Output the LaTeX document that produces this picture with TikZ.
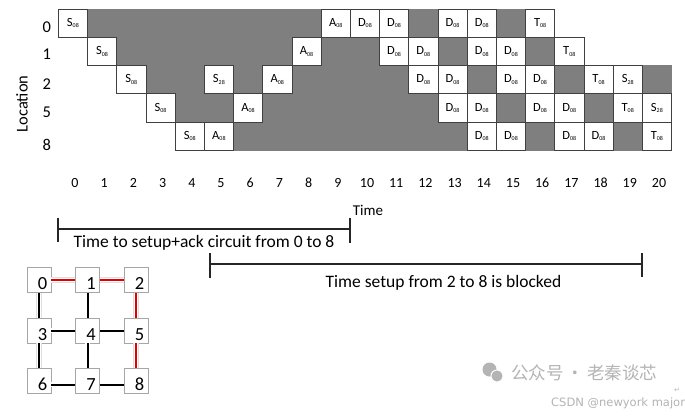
\documentclass[tikz,border=0pt]{standalone}
\usepackage{fontspec}
\setmainfont{Carlito}
\newfontfamily\cjkfont{Noto Sans CJK SC}
\newfontfamily\djvfont{DejaVu Sans}
\definecolor{gcol}{HTML}{7F7F7F}
\definecolor{linkred}{HTML}{E00000}
\definecolor{wmark}{HTML}{B4B4B4}
\newcommand\sx[2]{#1\lower1.4pt\hbox{\fontsize{6}{6}\selectfont #2}}
\newcommand\wc[3]{\node[wcell] (w#1x#2) at ({72.9+29.2*#2},{23.125+28.25*#1}) {#3};}
\newcommand\gc[2]{\node[gcell] (g#1x#2) at ({72.9+29.2*#2},{23.125+28.25*#1}) {};}
\tikzset{
  wcell/.style={draw=black!75, fill=white, line width=0.6pt, minimum width=29.2pt,
    minimum height=28.25pt, inner sep=0pt, font=\fontsize{12.5}{13}\selectfont},
  gcell/.style={draw=gcol, fill=gcol, line width=0.6pt, minimum width=29.2pt,
    minimum height=28.25pt, inner sep=0pt},
  loclab/.style={anchor=base, inner sep=0pt, font=\fontsize{16.5}{17}\selectfont},
  tlab/.style={anchor=base, inner sep=0pt, font=\fontsize{14}{15}\selectfont},
  brtext/.style={anchor=base, inner sep=0pt, font=\fontsize{17.5}{18}\selectfont},
  bar/.style={line width=2pt, draw=black!85},
  mbox/.style={draw=gray!70, fill=white, line width=0.8pt, minimum width=24pt,
    minimum height=25pt, inner sep=0pt},
  mnum/.style={anchor=base, inner sep=0pt, font=\fontsize{18.5}{19}\selectfont},
  linkbase/.style={preaction={draw=gray!25, line width=5.5pt},
    preaction={draw=white, line width=4.3pt}, line width=2pt},
  redlink/.style={linkbase, draw=linkred},
  blklink/.style={linkbase, draw=black},
}
\begin{document}
\begin{tikzpicture}[x=1pt, y=-1pt]
\useasboundingbox (0,0) rectangle (685,418);
\fill[white] (0,0) rectangle (685,418);

% ---- gray cells ----
\foreach \c in {1,2,3,4,5,6,7,8,12,15} {\gc{0}{\c}}
\foreach \c in {2,3,4,5,6,7,9,10,13,16} {\gc{1}{\c}}
\foreach \c in {3,4,6,8,9,10,11,14,17,20} {\gc{2}{\c}}
\foreach \c in {4,5,7,8,9,10,11,12,15,18} {\gc{3}{\c}}
\foreach \c in {6,7,8,9,10,11,12,13,16,19} {\gc{4}{\c}}

% ---- white cells ----
\foreach \c/\l/\s in {0/S/08, 9/A/08, 10/D/08, 11/D/08, 13/D/08, 14/D/08, 16/T/08} {\wc{0}{\c}{\sx{\l}{\s}}}
\foreach \c/\l/\s in {1/S/08, 8/A/08, 11/D/08, 12/D/08, 14/D/08, 15/D/08, 17/T/08} {\wc{1}{\c}{\sx{\l}{\s}}}
\foreach \c/\l/\s in {2/S/08, 5/S/28, 7/A/08, 12/D/08, 13/D/08, 15/D/08, 16/D/08, 18/T/08, 19/S/28} {\wc{2}{\c}{\sx{\l}{\s}}}
\foreach \c/\l/\s in {3/S/08, 6/A/08, 13/D/08, 14/D/08, 16/D/08, 17/D/08, 19/T/08, 20/S/28} {\wc{3}{\c}{\sx{\l}{\s}}}
\foreach \c/\l/\s in {4/S/08, 5/A/08, 14/D/08, 15/D/08, 17/D/08, 18/D/08, 20/T/08} {\wc{4}{\c}{\sx{\l}{\s}}}

% ---- location axis ----
\node[loclab] (l0) at (46.7,32.3) {0};
\node[loclab] (l1) at (46.7,59) {1};
\node[loclab] (l2) at (46.7,89) {2};
\node[loclab] (l5) at (46.7,117) {5};
\node[loclab] (l8) at (46.7,150) {8};
\node[rotate=90, inner sep=0pt, font=\fontsize{16.5}{17}\selectfont] (loc) at (22,104) {Location};

% ---- time axis ----
\foreach \t in {0,...,20} {\node[tlab] (t\t) at ({75+29.2*\t},187) {\t};}
\node[anchor=base, inner sep=0pt, font=\fontsize{15}{16}\selectfont] (time) at (368,215.5) {Time};

% ---- bracket 1 ----
\coordinate (a1) at (58,229);
\coordinate (a2) at (350,229);
\coordinate (a1t) at (58,218);
\coordinate (a1b) at (58,242);
\coordinate (a2t) at (350,218);
\coordinate (a2b) at (350,243);
\draw[bar] (a1) -- (a2);
\draw[bar] (a1t) -- (a1b);
\draw[bar] (a2t) -- (a2b);
\node[brtext] (txt1) at (204,247.5) {Time to setup+ack circuit from 0 to 8};

% ---- bracket 2 ----
\coordinate (b1) at (210,264);
\coordinate (b2) at (642,264);
\coordinate (b1t) at (210,253);
\coordinate (b1b) at (210,278);
\coordinate (b2t) at (642,253);
\coordinate (b2b) at (642,277);
\draw[bar] (b1) -- (b2);
\draw[bar] (b1t) -- (b1b);
\draw[bar] (b2t) -- (b2b);
\node[brtext] (txt2) at (443.5,287) {Time setup from 2 to 8 is blocked};

% ---- mesh ----
\foreach \i/\x/\y in {0/39/280, 1/87.5/280, 2/136/280,
                      3/39/330.5, 4/87.5/330.5, 5/136/330.5,
                      6/39/380.5, 7/87.5/380.5, 8/136/380.5} {
  \node[mbox] (m\i) at (\x,\y) {};
}
\draw[redlink] (m0) -- (m1);
\draw[redlink] (m1) -- (m2);
\draw[redlink] (m2) -- (m5);
\draw[redlink] (m5) -- (m8);
\draw[blklink] (m0) -- (m3);
\draw[blklink] (m1) -- (m4);
\draw[blklink] (m3) -- (m4);
\draw[blklink] (m4) -- (m5);
\draw[blklink] (m3) -- (m6);
\draw[blklink] (m4) -- (m7);
\draw[blklink] ([yshift=-4pt]m6.east) -- ([yshift=-4pt]m7.west);
\draw[blklink] ([yshift=-4pt]m7.east) -- ([yshift=-4pt]m8.west);
\foreach \i in {0,...,8} {
  \node[mnum] (n\i) at ([shift={(3.5pt,-9.5pt)}]m\i.center) {\i};
}

% ---- watermark ----
\fill[wmark] (489.5,369.5) circle (7);
\fill[wmark, draw=white, line width=1pt] (497,376) circle (6);
\node[anchor=west, inner sep=0pt, text=wmark, font=\cjkfont\fontsize{17.5}{18}\selectfont] (wm1) at (511,373) {公众号\hspace{3pt}·\hspace{3pt}老秦谈芯};
\node[anchor=base, inner sep=0pt, text=wmark, font=\djvfont\fontsize{7}{7}\selectfont] (wm2) at (677,392) {↵};
\node[anchor=west, inner sep=0pt, text=wmark, font=\djvfont\fontsize{11.5}{12}\selectfont] (wm3) at (551,403) {CSDN @newyork major};
\end{tikzpicture}
\end{document}
